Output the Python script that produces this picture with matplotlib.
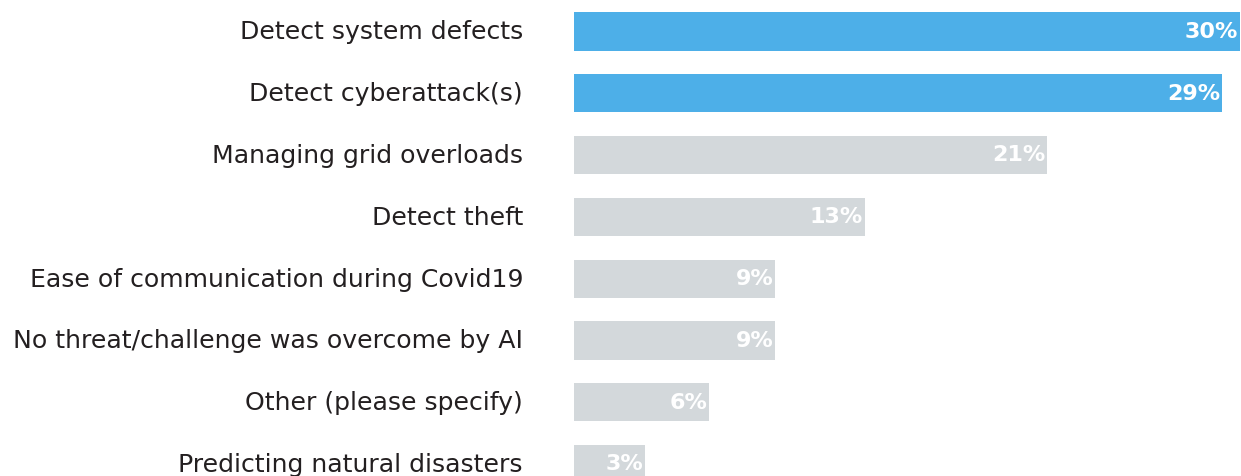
import matplotlib
matplotlib.use("Agg")
import matplotlib.pyplot as plt

categories = [
    "Detect system defects",
    "Detect cyberattack(s)",
    "Managing grid overloads",
    "Detect theft",
    "Ease of communication during Covid19",
    "No threat/challenge was overcome by AI",
    "Other (please specify)",
    "Predicting natural disasters",
]
values = [30.0, 29.2, 21.3, 13.1, 9.05, 9.05, 6.1, 3.2]
value_labels = ["30%", "29%", "21%", "13%", "9%", "9%", "6%", "3%"]
highlight = [True, True, False, False, False, False, False, False]

BLUE = "#4DAFE8"
GRAY = "#D3D8DB"
TEXT = "#231F20"

W, H = 1241, 477
fig = plt.figure(figsize=(W / 100, H / 100), dpi=100)
ax = fig.add_axes([574 / W, 0, (W - 574) / W, 1])

ys = list(range(len(categories)))
colors = [BLUE if h else GRAY for h in highlight]
ax.barh(ys, values, height=0.615, color=colors, linewidth=0)

ax.set_xlim(0, 30.05)
ax.set_ylim((477 - 32.5) / 61.8, -32.5 / 61.8)
ax.axis("off")

for y, v, lab, cat in zip(ys, values, value_labels, categories):
    ax.text(v - 0.07, y - 0.01, lab, ha="right", va="center", color="white",
            fontsize=16, fontweight="bold", family="DejaVu Sans")
    ax.annotate(cat, xy=(0, y), xycoords="data", xytext=(-51, 0),
                textcoords="offset pixels", ha="right", va="center",
                color=TEXT, fontsize=18.1, family="DejaVu Sans", annotation_clip=False)

fig.savefig("out.png", dpi=100)
